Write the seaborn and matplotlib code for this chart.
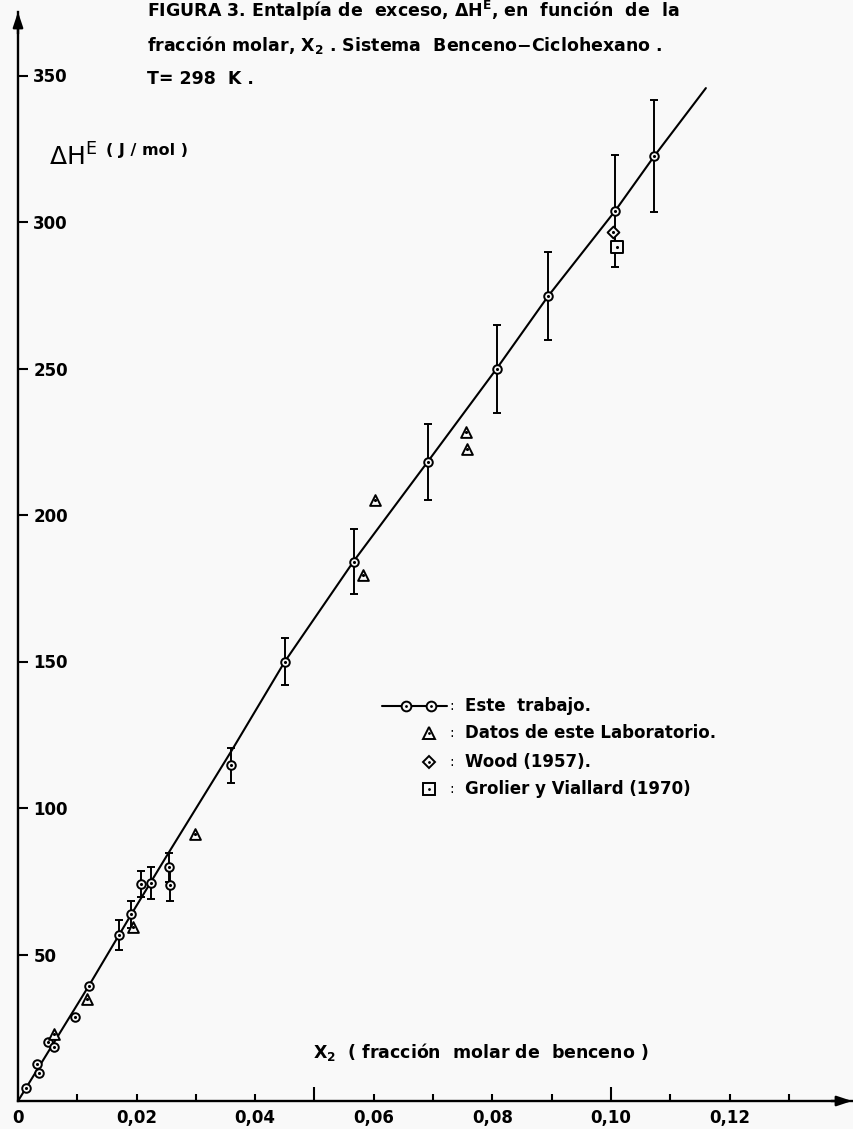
import numpy as np
import pandas as pd
import matplotlib
matplotlib.use("Agg")
import matplotlib.pyplot as plt
import seaborn as sns

# Este trabajo (circulos con barra de error)
x_este = [0.0013, 0.0032, 0.0036, 0.0050, 0.0061, 0.0096, 0.0119, 0.0171, 0.0191,
          0.0207, 0.0224, 0.0254, 0.0256, 0.0359, 0.0450, 0.0567, 0.0691, 0.0807,
          0.0894, 0.1007, 0.1073]
y_este = [4.3, 12.5, 9.7, 20.1, 18.5, 28.6, 39.2, 56.7, 63.7,
          74.1, 74.3, 79.8, 73.6, 114.6, 149.9, 184.1, 218.2, 249.9,
          274.7, 303.8, 322.5]
err_este = [0, 0, 0, 0, 0, 0, 0, 5, 4.5,
            4.5, 5.5, 5, 5.5, 6, 8, 11, 13, 15,
            15, 19, 19]

# curva trazada
x_curva = [0.0, 0.012, 0.0191, 0.025, 0.036, 0.045, 0.0567, 0.0691, 0.0807, 0.0894, 0.1007, 0.1073, 0.116]
y_curva = [0.0, 39.5, 63.7, 83.4, 119.5, 150.0, 184.5, 218.2, 249.9, 274.7, 303.8, 322.5, 345.7]

# Datos de este Laboratorio
x_lab = [0.0061, 0.0117, 0.0194, 0.0298, 0.0581, 0.0602, 0.0755, 0.0758]
y_lab = [22.9, 34.7, 59.5, 91.0, 179.5, 205.1, 228.2, 222.4]

# Wood (1957)
x_wood = [0.1004]
y_wood = [296.7]

# Grolier y Viallard (1970)
x_grolier = [0.1010]
y_grolier = [291.6]

x_ticks = [0.0, 0.01, 0.02, 0.03, 0.04, 0.05, 0.06, 0.07, 0.08, 0.09, 0.10, 0.11, 0.12, 0.13]
x_tick_labels = ["0", "", "0,02", "", "0,04", "", "0,06", "", "0,08", "", "0,10", "", "0,12", ""]
y_ticks = [50, 100, 150, 200, 250, 300, 350]
y_tick_labels = ["50", "100", "150", "200", "250", "300", "350"]

sns.set_style("ticks")
plt.rcParams['font.family'] = ['DejaVu Sans']
plt.rcParams['mathtext.default'] = 'regular'

W, H = 854, 1129
bg = '#f9f9f9'
fig = plt.figure(figsize=(W / 100, H / 100), dpi=100, facecolor=bg)
ax = fig.add_axes([18 / W, 28 / H, (852 - 18) / W, (1101 - 12) / H])
ax.set_facecolor(bg)


def fx(px):
    return px / W


def fy(py):
    return 1 - py / H


ax.set_xlim(0, (852 - 18) / 5930)
ax.set_ylim(0, (1101 - 12) / 2.93)

sns.despine(ax=ax)
for s in ['left', 'bottom']:
    ax.spines[s].set_linewidth(1.7)
    ax.spines[s].set_color('black')

# arrow heads
ax.annotate('', xy=(1, 0), xytext=(0.975, 0), xycoords='axes fraction',
            arrowprops=dict(arrowstyle='-|>,head_length=0.9,head_width=0.3',
                            color='black', lw=1.7, shrinkA=0, shrinkB=0))
ax.annotate('', xy=(0, 1), xytext=(0, 0.98), xycoords='axes fraction',
            arrowprops=dict(arrowstyle='-|>,head_length=0.9,head_width=0.3',
                            color='black', lw=1.7, shrinkA=0, shrinkB=0))

# ticks
ax.set_xticks(x_ticks)
ax.set_xticklabels(x_tick_labels, fontsize=12, fontweight='bold')
ax.tick_params(axis='x', bottom=True, direction='in', length=5, width=1.5, pad=6, colors='black')
for t, v in zip(ax.xaxis.get_major_ticks(), x_ticks):
    if abs(v - 0.05) < 1e-9 or abs(v - 0.10) < 1e-9:
        t.tick1line.set_markersize(10)
    if v == 0:
        t.tick1line.set_visible(False)

ax.set_yticks(y_ticks)
ax.set_yticklabels(y_tick_labels, fontsize=12, fontweight='bold')
ax.tick_params(axis='y', left=True, direction='in', length=7, width=1.5, pad=-11, colors='black')
for lab in ax.get_yticklabels():
    lab.set_horizontalalignment('left')

# curve
sns.lineplot(x=x_curva, y=y_curva, ax=ax, color='black', lw=1.5, sort=False, zorder=2)

# error bars
mask = [e > 0 for e in err_este]
ax.errorbar([x for x, m in zip(x_este, mask) if m],
            [y for y, m in zip(y_este, mask) if m],
            yerr=[e for e, m in zip(err_este, mask) if m],
            fmt='none', ecolor='black', elinewidth=1.4, capsize=3, capthick=1.4, zorder=3)

mk = dict(color=bg, edgecolor='black', linewidth=1.4, zorder=4, legend=False)
sns.scatterplot(x=x_este, y=y_este, marker='o', s=38, ax=ax, **mk)
sns.scatterplot(x=x_lab, y=y_lab, marker='^', s=60, ax=ax, **mk)
sns.scatterplot(x=x_wood, y=y_wood, marker='D', s=36, ax=ax, **mk)
sns.scatterplot(x=x_grolier, y=y_grolier, marker='s', s=80, ax=ax, **mk)
ax.scatter(x_este + x_lab + x_wood + x_grolier, y_este + y_lab + y_wood + y_grolier,
           s=1.5, color='black', zorder=5)

# texts
tkw = dict(color='black', va='center', ha='left', fontweight='bold')
fig.text(fx(147), fy(11), "FIGURA 3. Entalpía de  exceso, ΔH$^{E}$, en  función  de  la", fontsize=12.5, **tkw)
fig.text(fx(147), fy(45), "fracción molar, X$_{2}$ . Sistema  Benceno−Ciclohexano .", fontsize=12.5, **tkw)
fig.text(fx(147), fy(79), "T= 298  K .", fontsize=12.5, **tkw)

fig.text(fx(49), fy(157), "ΔH$^{E}$", fontsize=18, color='black', va='center', ha='left')
fig.text(fx(106), fy(150), "( J / mol )", fontsize=11.5, **tkw)

fig.text(fx(313), fy(1052), "X$_{2}$  ( fracción  molar de  benceno )", fontsize=12.5, **tkw)

# legend (manual)
fig.add_artist(plt.Line2D([fx(382), fx(447)], [fy(706), fy(706)], color='black', lw=1.5))
for px in [406, 431]:
    fig.add_artist(plt.Line2D([fx(px)], [fy(706)], marker='o', ms=7, mfc=bg, mec='black', mew=1.4))
    fig.add_artist(plt.Line2D([fx(px)], [fy(706)], marker='.', ms=2, color='black'))
leg_marks = [('^', 733, 8), ('D', 762, 6.5), ('s', 789, 8.5)]
for m, py, ms in leg_marks:
    fig.add_artist(plt.Line2D([fx(429)], [fy(py)], marker=m, ms=ms, mfc=bg, mec='black', mew=1.4))
    fig.add_artist(plt.Line2D([fx(429)], [fy(py)], marker='.', ms=2, color='black'))
leg_text = ["Este  trabajo.", "Datos de este Laboratorio.", "Wood (1957).", "Grolier y Viallard (1970)"]
for py, t in zip([706, 733, 762, 789], leg_text):
    fig.text(fx(449), fy(py), ":", fontsize=10, color='black', va='center', ha='left')
    fig.text(fx(465), fy(py), t, fontsize=12, **tkw)

fig.savefig("out.png", dpi=100, facecolor=bg)
